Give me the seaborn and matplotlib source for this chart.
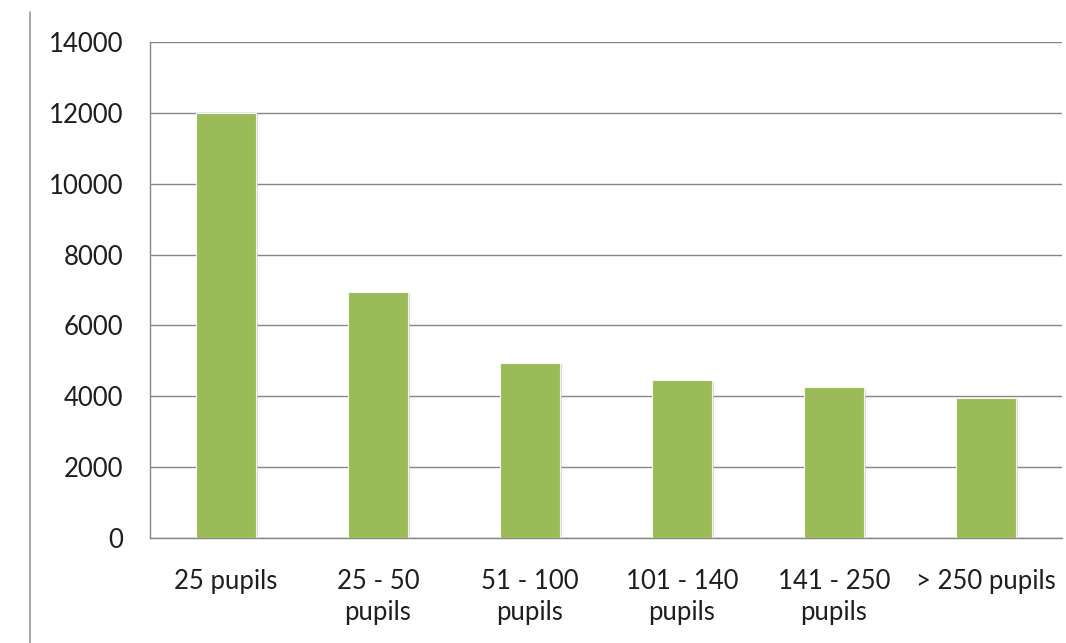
import matplotlib
matplotlib.use("Agg")
import matplotlib.pyplot as plt
import seaborn as sns
import pandas as pd
from matplotlib.lines import Line2D
import matplotlib.patheffects as pe

categories = ["25 pupils", "25 - 50\npupils", "51 - 100\npupils",
              "101 - 140\npupils", "141 - 250\npupils", "> 250 pupils"]
values = [12000, 6950, 4950, 4450, 4250, 3950]
y_ticks = [0, 2000, 4000, 6000, 8000, 10000, 12000, 14000]

sns.set_style("white")
plt.rcParams["font.family"] = ["Lato", "DejaVu Sans"]

df = pd.DataFrame({"size": categories, "count": values})

fig = plt.figure(figsize=(10.66, 6.43), dpi=100)
ax = fig.add_axes([150 / 1066, 1 - 538 / 643, 912 / 1066, 496 / 643])

sns.barplot(data=df, x="size", y="count", color="#9BBB59", saturation=1,
            width=0.4, ax=ax, zorder=3)
for p in ax.patches:
    p.set_edgecolor("#f4f8ec")
    p.set_linewidth(0.8)
    p.set_path_effects([pe.SimplePatchShadow(offset=(1.5, -1), shadow_rgbFace="#bfbfbf", alpha=0.6),
                        pe.Normal()])

ax.set_ylim(0, 14000)
ax.set_xlim(-0.5, 5.5)
ax.set_yticks(y_ticks)
ax.set_yticklabels([str(v) for v in y_ticks], fontsize=18.5, color="#1e1e1e")
ax.set_xticks(range(len(categories)))
ax.set_xticklabels(categories, fontsize=18.5, color="#1e1e1e", linespacing=1.3)
ax.set_xticks([i - 0.5 for i in range(len(categories) + 1)], minor=True)
ax.tick_params(axis="x", which="major", length=0, pad=22)
ax.tick_params(axis="x", which="minor", length=8, width=1, color="#868686", direction="out")
ax.tick_params(axis="y", length=8, width=1, color="#868686", direction="out", pad=11)
ax.set_xlabel("")
ax.set_ylabel("")

ax.yaxis.grid(True, color="#868686", linewidth=1, zorder=0)
ax.set_axisbelow(True)
for side in ["top", "right"]:
    ax.spines[side].set_visible(False)
for side in ["left", "bottom"]:
    ax.spines[side].set_color("#868686")
    ax.spines[side].set_linewidth(1)

# page border on the left
fig.add_artist(Line2D([30 / 1066, 30 / 1066], [0, 1 - 12 / 643], color="#9a9a9a", linewidth=1.2))

fig.savefig("out.png", dpi=100)
